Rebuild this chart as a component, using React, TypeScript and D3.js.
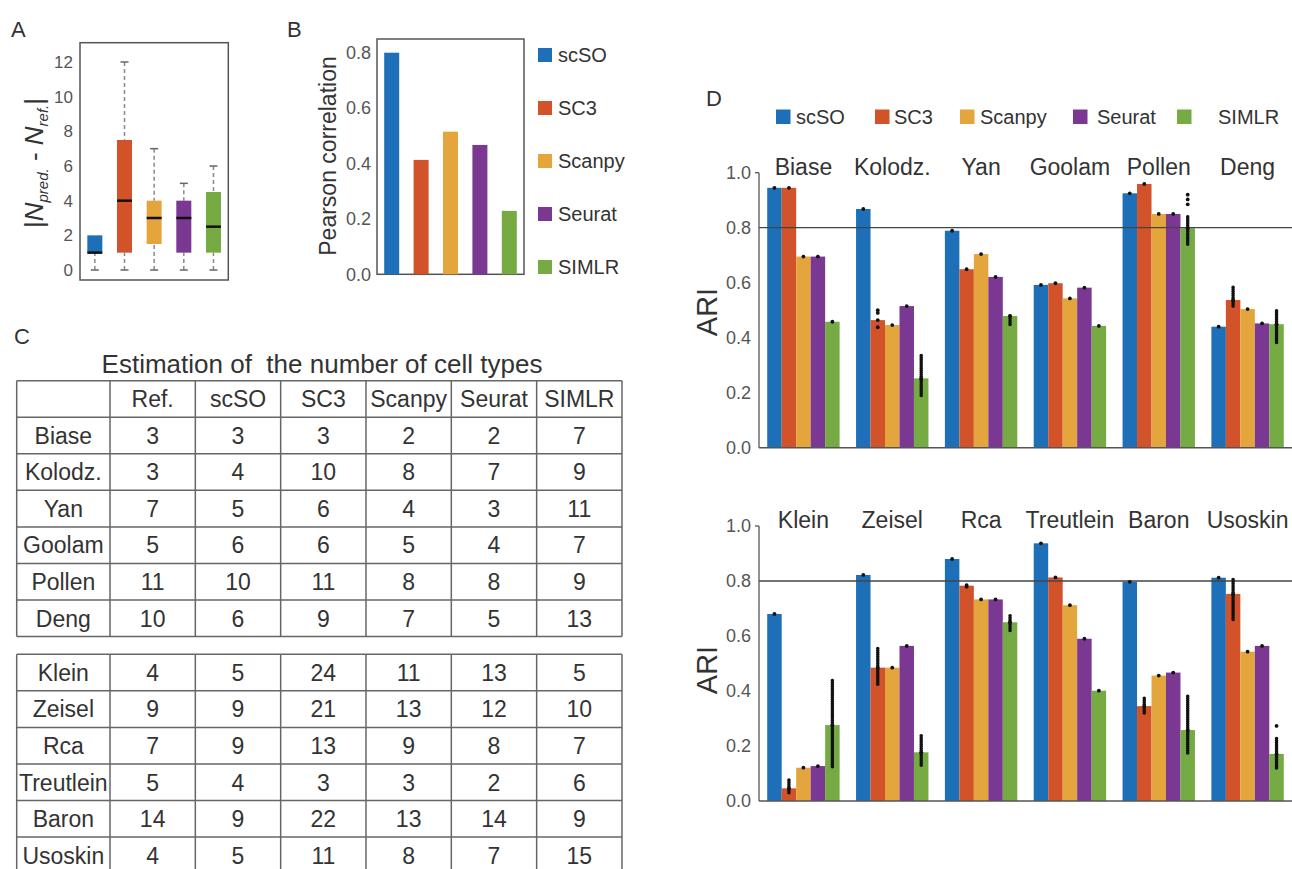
import React from 'react';
import * as d3 from 'd3';

const methods = ['scSO', 'SC3', 'Scanpy', 'Seurat', 'SIMLR'];
const methodColors = ['#1d6fb8', '#d2532a', '#e4a53c', '#7b3892', '#76ab44'];

// Panel A: |N_pred - N_ref| box stats
const boxQ1 = [1, 1, 1.5, 1, 1];
const boxMedian = [1, 4, 3, 3, 2.5];
const boxQ3 = [2, 7.5, 4, 4, 4.5];
const boxMin = [0, 0, 0, 0, 0];
const boxMax = [2, 12, 7, 5, 6];
const boxTicks = [0, 2, 4, 6, 8, 10, 12];

// Panel B: Pearson correlation
const pearson = [0.8, 0.413, 0.515, 0.467, 0.229];
const pearsonTicks = [0, 0.2, 0.4, 0.6, 0.8];

// Panel C: table
const tableHeader = ['', 'Ref.', 'scSO', 'SC3', 'Scanpy', 'Seurat', 'SIMLR'];
const datasetsTop = ['Biase', 'Kolodz.', 'Yan', 'Goolam', 'Pollen', 'Deng'];
const datasetsBottom = ['Klein', 'Zeisel', 'Rca', 'Treutlein', 'Baron', 'Usoskin'];
const countsTop = [
  [3, 3, 3, 2, 2, 7],
  [3, 4, 10, 8, 7, 9],
  [7, 5, 6, 4, 3, 11],
  [5, 6, 6, 5, 4, 7],
  [11, 10, 11, 8, 8, 9],
  [10, 6, 9, 7, 5, 13],
];
const countsBottom = [
  [4, 5, 24, 11, 13, 5],
  [9, 9, 21, 13, 12, 10],
  [7, 9, 13, 9, 8, 7],
  [5, 4, 3, 3, 2, 6],
  [14, 9, 22, 13, 14, 9],
  [4, 5, 11, 8, 7, 15],
];

// Panel D: ARI
const ariTicks = [0, 0.2, 0.4, 0.6, 0.8, 1.0];
const ariTop = [
  [0.945, 0.945, 0.695, 0.695, 0.458],
  [0.868, 0.464, 0.446, 0.515, 0.252],
  [0.789, 0.649, 0.704, 0.621, 0.479],
  [0.592, 0.598, 0.543, 0.582, 0.443],
  [0.925, 0.959, 0.85, 0.85, 0.798],
  [0.44, 0.537, 0.504, 0.452, 0.449],
];
const ariBottom = [
  [0.68, 0.046, 0.121, 0.127, 0.276],
  [0.822, 0.485, 0.485, 0.564, 0.177],
  [0.88, 0.783, 0.733, 0.733, 0.65],
  [0.937, 0.813, 0.712, 0.59, 0.401],
  [0.797, 0.345, 0.456, 0.467, 0.258],
  [0.812, 0.753, 0.543, 0.564, 0.171],
];
// [dataset, method, low, high] spread of repeated runs
const ariTopSpreads: [string, string, number, number][] = [
  ['Kolodz.', 'SIMLR', 0.19, 0.34],
  ['Yan', 'SIMLR', 0.448, 0.482],
  ['Pollen', 'SIMLR', 0.74, 0.84],
  ['Deng', 'SC3', 0.515, 0.585],
  ['Deng', 'SIMLR', 0.383, 0.503],
];
const ariTopOutliers: [string, string, number][] = [
  ['Kolodz.', 'SC3', 0.5],
  ['Kolodz.', 'SC3', 0.49],
  ['Kolodz.', 'SC3', 0.438],
  ['Pollen', 'SIMLR', 0.885],
  ['Pollen', 'SIMLR', 0.903],
  ['Pollen', 'SIMLR', 0.92],
];
const ariBottomSpreads: [string, string, number, number][] = [
  ['Klein', 'SC3', 0.03, 0.08],
  ['Klein', 'SIMLR', 0.125, 0.44],
  ['Zeisel', 'SC3', 0.425, 0.555],
  ['Zeisel', 'SIMLR', 0.13, 0.24],
  ['Rca', 'SC3', 0.778, 0.79],
  ['Rca', 'SIMLR', 0.62, 0.68],
  ['Baron', 'SC3', 0.32, 0.375],
  ['Baron', 'SIMLR', 0.175, 0.385],
  ['Usoskin', 'SC3', 0.66, 0.81],
  ['Usoskin', 'SIMLR', 0.12, 0.23],
];
const ariBottomOutliers: [string, string, number][] = [['Usoskin', 'SIMLR', 0.273]];

const FONT = "'Liberation Sans', Arial, Helvetica, sans-serif";
const TICK = '#555';
const TXT = '#333';

function PanelA() {
  const x = d3.scaleBand<string>().domain(methods).range([80, 228.3]);
  const y = d3.scaleLinear().domain([0, 12]).range([270, 62]);
  const bw = 15;
  return (
    <g>
      <text x={11} y={37} fontSize={22} fill={TXT}>A</text>
      <rect x={80} y={42.7} width={148.3} height={237.3} fill="none" stroke="#555" strokeWidth={1.5} />
      {boxTicks.map((t) => (
        <text key={t} x={73} y={y(t)} dy="0.35em" textAnchor="end" fontSize={17} fill={TICK}>{t}</text>
      ))}
      {methods.map((m, i) => {
        const cx = (x(m) as number) + x.bandwidth() / 2;
        return (
          <g key={m}>
            {boxMin[i] < boxQ1[i] && (
              <g>
                <line x1={cx} x2={cx} y1={y(boxMin[i])} y2={y(boxQ1[i])} stroke="#888" strokeWidth={1.5} strokeDasharray="4,3" />
                <line x1={cx - 4} x2={cx + 4} y1={y(boxMin[i])} y2={y(boxMin[i])} stroke="#666" strokeWidth={1.5} />
              </g>
            )}
            {boxMax[i] > boxQ3[i] && (
              <g>
                <line x1={cx} x2={cx} y1={y(boxMax[i])} y2={y(boxQ3[i])} stroke="#888" strokeWidth={1.5} strokeDasharray="4,3" />
                <line x1={cx - 4} x2={cx + 4} y1={y(boxMax[i])} y2={y(boxMax[i])} stroke="#666" strokeWidth={1.5} />
              </g>
            )}
            <rect x={cx - bw / 2} y={y(boxQ3[i])} width={bw} height={y(boxQ1[i]) - y(boxQ3[i])} fill={methodColors[i]} />
            <line x1={cx - bw / 2} x2={cx + bw / 2} y1={y(boxMedian[i])} y2={y(boxMedian[i])} stroke="#111" strokeWidth={2.5} />
          </g>
        );
      })}
      <text transform="translate(43,163) rotate(-90)" textAnchor="middle" fontSize={26} fill={TXT}>
        <tspan>|</tspan>
        <tspan fontStyle="italic">N</tspan>
        <tspan fontStyle="italic" fontSize={15} dy={5}>pred.</tspan>
        <tspan dy={-5}> - </tspan>
        <tspan fontStyle="italic">N</tspan>
        <tspan fontStyle="italic" fontSize={15} dy={5}>ref.</tspan>
        <tspan dy={-5}>|</tspan>
      </text>
    </g>
  );
}

function PanelB() {
  const x = d3.scaleBand<string>().domain(methods).range([377, 524]);
  const y = d3.scaleLinear().domain([0, 0.8]).range([274.3, 52.7]);
  const bw = 15;
  const fmt = d3.format('.1f');
  return (
    <g>
      <text x={287} y={37} fontSize={22} fill={TXT}>B</text>
      <rect x={377} y={39} width={147} height={235.3} fill="none" stroke="#555" strokeWidth={1.5} />
      {pearsonTicks.map((t) => (
        <text key={t} x={371} y={y(t)} dy="0.35em" textAnchor="end" fontSize={18} fill={TICK}>{fmt(t)}</text>
      ))}
      {methods.map((m, i) => {
        const cx = (x(m) as number) + x.bandwidth() / 2;
        return <rect key={m} x={cx - bw / 2} y={y(pearson[i])} width={bw} height={y(0) - y(pearson[i])} fill={methodColors[i]} />;
      })}
      <text transform="translate(336,156) rotate(-90)" textAnchor="middle" fontSize={23} fill={TXT}>Pearson correlation</text>
      {methods.map((m, i) => (
        <g key={m}>
          <rect x={538} y={55 + i * 53 - 7} width={14} height={14} fill={methodColors[i]} />
          <text x={558} y={55 + i * 53} dy="0.35em" fontSize={20} fill={TXT}>{m}</text>
        </g>
      ))}
    </g>
  );
}

function Table({ rows, names, header, top }: { rows: number[][]; names: string[]; header: boolean; top: number }) {
  const left = 16.7;
  const firstW = 93.3;
  const colW = 85.33;
  const rowH = 36.55;
  const nCols = 7;
  const allRows: string[][] = [];
  if (header) allRows.push(tableHeader);
  rows.forEach((r, i) => allRows.push([names[i], ...r.map(String)]));
  const colX = (c: number) => (c === 0 ? left : left + firstW + (c - 1) * colW);
  const right = colX(nCols);
  const bottom = top + allRows.length * rowH;
  return (
    <g>
      {d3.range(allRows.length + 1).map((r) => (
        <line key={'h' + r} x1={left} x2={right} y1={top + r * rowH} y2={top + r * rowH} stroke="#666" strokeWidth={1.5} />
      ))}
      {d3.range(nCols + 1).map((c) => (
        <line key={'v' + c} x1={colX(c)} x2={colX(c)} y1={top} y2={bottom} stroke="#666" strokeWidth={1.5} />
      ))}
      {allRows.map((row, r) =>
        row.map((cell, c) => (
          <text key={r + '-' + c} x={(colX(c) + colX(c + 1)) / 2} y={top + r * rowH + rowH / 2} dy="0.36em" textAnchor="middle" fontSize={23} fill={TXT}>
            {cell}
          </text>
        ))
      )}
    </g>
  );
}

function PanelC() {
  return (
    <g>
      <text x={14} y={344} fontSize={22} fill={TXT}>C</text>
      <text x={322} y={373} textAnchor="middle" fontSize={26} fill={TXT} style={{ whiteSpace: 'pre' }}>Estimation of  the number of cell types</text>
      <Table rows={countsTop} names={datasetsTop} header={true} top={380.7} />
      <Table rows={countsBottom} names={datasetsBottom} header={false} top={654.3} />
    </g>
  );
}

function AriPanel({
  data,
  datasets,
  spreads,
  outliers,
  zeroY,
  labelY,
}: {
  data: number[][];
  datasets: string[];
  spreads: [string, string, number, number][];
  outliers: [string, string, number][];
  zeroY: number;
  labelY: number;
}) {
  const axisX = 759;
  const rightX = 1292;
  const y = d3.scaleLinear().domain([0, 1]).range([zeroY, zeroY - 275]);
  const gx = d3.scaleBand<string>().domain(datasets).range([axisX, rightX]).paddingInner(0.185).paddingOuter(0.0925);
  const ix = d3.scaleBand<string>().domain(methods).range([0, gx.bandwidth()]);
  const fmt = d3.format('.1f');
  const cxOf = (d: string, m: string) => (gx(d) as number) + (ix(m) as number) + ix.bandwidth() / 2;
  return (
    <g>
      {ariTicks.map((t) => (
        <text key={t} x={751} y={y(t)} dy="0.35em" textAnchor="end" fontSize={18} fill={TICK}>{fmt(t)}</text>
      ))}
      <text transform={`translate(717,${labelY}) rotate(-90)`} textAnchor="middle" fontSize={29} fill={TXT}>ARI</text>
      {datasets.map((d, gi) => (
        <g key={d}>
          <text x={(gx(d) as number) + gx.bandwidth() / 2} y={y(1) + 2} textAnchor="middle" fontSize={23} fill={TXT}>{d}</text>
          {methods.map((m, mi) => (
            <rect key={m} x={(gx(d) as number) + (ix(m) as number)} y={y(data[gi][mi])} width={ix.bandwidth()} height={y(0) - y(data[gi][mi])} fill={methodColors[mi]} />
          ))}
        </g>
      ))}
      <line x1={axisX} x2={rightX} y1={y(0.8)} y2={y(0.8)} stroke="#444" strokeWidth={1.3} />
      <line x1={axisX} x2={rightX} y1={y(0)} y2={y(0)} stroke="#555" strokeWidth={1.5} />
      <line x1={axisX} x2={axisX} y1={y(1)} y2={y(0)} stroke="#555" strokeWidth={1.3} />
      <line x1={axisX - 4} x2={axisX} y1={y(1)} y2={y(1)} stroke="#555" strokeWidth={1.3} />
      {spreads.map(([d, m, lo, hi], k) => (
        <line key={'s' + k} x1={cxOf(d, m)} x2={cxOf(d, m)} y1={y(lo)} y2={y(hi)} stroke="#111" strokeWidth={3.6} strokeLinecap="round" strokeDasharray="0,2.1" />
      ))}
      {datasets.map((d, gi) =>
        methods.map((m, mi) => <circle key={d + m} cx={cxOf(d, m)} cy={y(data[gi][mi])} r={1.9} fill="#111" />)
      )}
      {outliers.map(([d, m, v], k) => (
        <circle key={'o' + k} cx={cxOf(d, m)} cy={y(v)} r={1.9} fill="#111" />
      ))}
    </g>
  );
}

function PanelD() {
  const legendX = [776, 875, 960, 1073, 1177];
  const legendTextX = [796, 894, 980, 1097, 1218];
  return (
    <g>
      <text x={706} y={106} fontSize={22} fill={TXT}>D</text>
      {methods.map((m, i) => (
        <g key={m}>
          <rect x={legendX[i]} y={109.5} width={14.5} height={14.5} fill={methodColors[i]} />
          <text x={legendTextX[i]} y={124} fontSize={20} fill={TXT}>{m}</text>
        </g>
      ))}
      <AriPanel data={ariTop} datasets={datasetsTop} spreads={ariTopSpreads} outliers={ariTopOutliers} zeroY={447.7} labelY={312} />
      <AriPanel data={ariBottom} datasets={datasetsBottom} spreads={ariBottomSpreads} outliers={ariBottomOutliers} zeroY={801} labelY={670} />
    </g>
  );
}

export default function App() {
  return (
    <svg width={1292} height={869} style={{ position: 'absolute', left: 0, top: 0, background: '#fff' }} fontFamily={FONT}>
      <rect width={1292} height={869} fill="#fff" />
      <PanelA />
      <PanelB />
      <PanelC />
      <PanelD />
    </svg>
  );
}
